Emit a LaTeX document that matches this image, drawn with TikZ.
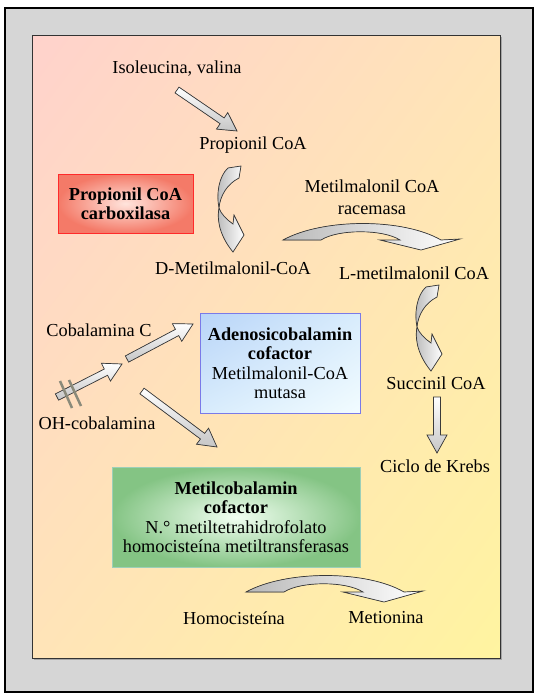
\documentclass[tikz,border=0pt]{standalone}
\usepackage{fontspec}
\setmainfont{Liberation Serif}
\usetikzlibrary{calc,shadings}
\definecolor{framegray}{HTML}{D6D6D6}
\definecolor{bgpink}{HTML}{FFD2CC}
\definecolor{bgpeach}{HTML}{FFE4B8}
\definecolor{bgyellow}{HTML}{FFF4A0}
\definecolor{redborder}{HTML}{FF2A2A}
\definecolor{redout}{HTML}{F47A68}
\definecolor{redin}{HTML}{FFE4DC}
\definecolor{blueborder}{HTML}{7A7AE8}
\definecolor{bluetl}{HTML}{B8D4F8}
\definecolor{bluebr}{HTML}{F2FCFF}
\definecolor{bluemid}{HTML}{D8ECFC}
\definecolor{greenborder}{HTML}{9CCFB8}
\definecolor{greenout}{HTML}{84C484}
\definecolor{greenin}{HTML}{F2FFF2}
\definecolor{arrowline}{HTML}{3A3A3A}
\definecolor{hashgray}{HTML}{8A8A7A}
\tikzset{
  lbl/.style={font=\fontsize{18.3}{19.5}\selectfont, inner sep=0pt, align=center},
  barrowstyle/.style={draw=arrowline, line width=0.7pt, top color=white, bottom color=gray!45},
  curvestyle/.style={draw=arrowline, line width=0.7pt, left color=gray!55, right color=white},
  vcurve/.pic={
    \filldraw[curvestyle] (9,-40) -- (22,-42) -- (20,-30)
      .. controls (8,-24) and (1,-12) .. (0,0)
      .. controls (2,6) and (8,12) .. (14,16) -- (15,7) -- (25,27) -- (14,44)
      .. controls (4,32) and (-3,16) .. (0,0)
      .. controls (-3,-14) and (0,-32) .. (9,-40) -- cycle;
  },
  hcurve/.pic={
    \filldraw[curvestyle] (0,0) .. controls (40,-22) and (120,-22) .. (158,0)
      -- (177,-1) -- (138,10) -- (97,0) -- (117,0)
      .. controls (100,-11) and (55,-11) .. (38,0) -- cycle;
  }
}
\newcommand{\blockarrow}[2]{%
  \filldraw[barrowstyle] let \p1=(#1), \p2=(#2),
    \n1={atan2(\y2-\y1,\x2-\x1)}, \n2={veclen(\x2-\x1,\y2-\y1)}, \n3={\n2-18pt} in
    ($(\p1)+(\n1+90:3.5pt)$) -- ($(\p1)+(\n1:\n3)+(\n1+90:3.5pt)$)
    -- ($(\p1)+(\n1:\n3)+(\n1+90:10pt)$) -- (\p2)
    -- ($(\p1)+(\n1:\n3)+(\n1-90:10pt)$) -- ($(\p1)+(\n1:\n3)+(\n1-90:3.5pt)$)
    -- ($(\p1)+(\n1-90:3.5pt)$) -- cycle;}
\begin{document}
\begin{tikzpicture}[x=1pt,y=-1pt]
\useasboundingbox (0,0) rectangle (539,697);
% frames
\draw[fill=framegray, line width=1.2pt] (5,8) rectangle (533,692);
\fill[gray!70] (34,37) rectangle (502,660);
\shade[upper left=bgpink, upper right=bgpeach, lower left=bgpeach, lower right=bgyellow] (32,35) rectangle (500,658);
\draw[line width=0.8pt, black!80] (32,35) rectangle (500,658);
% boxes
\node[lbl, font=\fontsize{18.3}{19}\selectfont\bfseries, draw=redborder, line width=0.8pt,
  shading=radial, inner color=redin, outer color=redout,
  minimum width=135pt, minimum height=59pt] (carbox) at (125.5,203.5) {Propionil CoA\\carboxilasa};
\node[lbl, draw=blueborder, line width=0.8pt,
  upper left=bluetl, upper right=bluemid, lower left=bluemid, lower right=bluebr,
  minimum width=160pt, minimum height=100pt] (adeno) at (280,363)
  {\textbf{Adenosicobalamin}\\\textbf{cofactor}\\Metilmalonil-CoA\\mutasa};
\node[lbl, draw=greenborder, line width=0.8pt,
  shading=radial, inner color=greenin, outer color=greenout,
  minimum width=248pt, minimum height=100pt] (metil) at (236,517)
  {\textbf{Metilcobalamin}\\\textbf{cofactor}\\N.° metiltetrahidrofolato\\homocisteína metiltransferasas};
% labels
\node[lbl] (iso) at (177,69) {Isoleucina, valina};
\node[lbl] (prop) at (253,145) {Propionil CoA};
\node[lbl, font=\fontsize{18.3}{22}\selectfont] (race) at (372,197) {Metilmalonil CoA\\racemasa};
\node[lbl] (dmm) at (233,268) {D-Metilmalonil-CoA};
\node[lbl] (lmm) at (414,273) {L-metilmalonil CoA};
\node[lbl] (succ) at (436,383) {Succinil CoA};
\node[lbl] (krebs) at (435,466) {Ciclo de Krebs};
\node[lbl] (cobc) at (99,330) {Cobalamina C};
\node[lbl] (ohcob) at (97,423) {OH-cobalamina};
\node[lbl] (homo) at (234,618) {Homocisteína};
\node[lbl] (met) at (386,618) {Metionina};
% curved arrows
\pic at (219,208) {vcurve};
\pic at (417,327) {vcurve};
\pic at (283,240) {hcurve};
\pic at (246,592) {hcurve};
% straight block arrows
\coordinate (a1s) at (177,90);  \coordinate (a1e) at (237,131);
\coordinate (a2s) at (437,397); \coordinate (a2e) at (437,453);
\coordinate (a3s) at (57,397);  \coordinate (a3e) at (122,364);
\coordinate (a4s) at (127,359); \coordinate (a4e) at (193,324);
\coordinate (a5s) at (142,391); \coordinate (a5e) at (217,447);
\blockarrow{a1s}{a1e}
\blockarrow{a2s}{a2e}
\blockarrow{a3s}{a3e}
\blockarrow{a4s}{a4e}
\blockarrow{a5s}{a5e}
% block marks
\draw[hashgray, line width=2.5pt] (60,381) -- (72,408);
\draw[hashgray, line width=2.5pt] (69,380) -- (81,406);
\end{tikzpicture}
\end{document}
